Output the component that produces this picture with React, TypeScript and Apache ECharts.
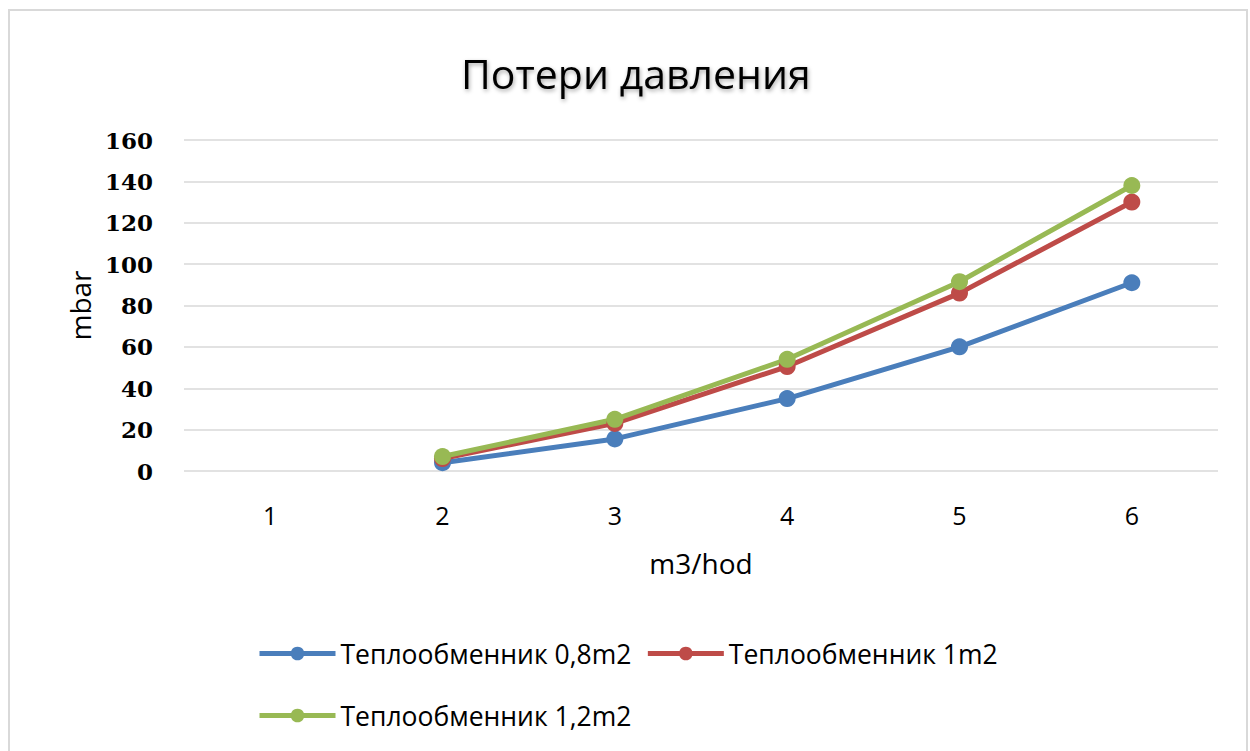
import React, { useEffect, useRef } from "react";
import * as echarts from "echarts";

const categories = ["1", "2", "3", "4", "5", "6"];
const series08 = [null, 4, 15.5, 35, 60, 91];
const series1 = [null, 6, 23, 50.5, 86, 130];
const series12 = [null, 7, 25, 54, 91.5, 138];
const seriesNames = ["Теплообменник 0,8m2", "Теплообменник 1m2", "Теплообменник 1,2m2"];
const colors = ["#4A7EBB", "#BE4B48", "#98B954"];

export default function App() {
  const ref = useRef<HTMLDivElement>(null);
  useEffect(() => {
    document.body.style.margin = "0";
    const chart = echarts.init(ref.current!, null, { renderer: "svg" });
    const mk = (name: string, data: any[], color: string) => ({
      name,
      type: "line",
      data,
      connectNulls: false,
      symbol: "circle",
      symbolSize: 17,
      lineStyle: { width: 5, color },
      itemStyle: { color },
      z: 3,
    });
    const legendText = { fontFamily: "Open Sans", fontSize: 26.5, color: "#000" };
    const legendCommon = {
      left: 252,
      itemWidth: 76,
      itemHeight: 17,
      itemGap: 14,
      textStyle: legendText,
      lineStyle: { width: 5 },
    };
    chart.setOption({
      animation: false,
      backgroundColor: "#ffffff",
      title: {
        text: "Потери давления",
        left: 456,
        top: 47,
        textStyle: {
          fontFamily: "Open Sans",
          fontSize: 41,
          fontWeight: "normal",
          color: "#000",
          textShadowColor: "rgba(0,0,0,0.35)",
          textShadowBlur: 4,
          textShadowOffsetX: 1,
          textShadowOffsetY: 2,
        },
      },
      graphic: [
        {
          type: "rect",
          shape: { x: 9, y: 10, width: 1238, height: 780 },
          style: { fill: "none", stroke: "#d9d9d9", lineWidth: 2 },
          silent: true,
        },
      ],
      legend: [
        { ...legendCommon, data: [seriesNames[0], seriesNames[1]], top: 635 },
        { ...legendCommon, data: [seriesNames[2]], top: 697 },
      ],
      grid: { left: 184, right: 32, top: 140, bottom: 280 },
      xAxis: {
        type: "category",
        data: categories,
        boundaryGap: true,
        axisLine: { show: false },
        axisTick: { show: false },
        axisLabel: { fontFamily: "Open Sans", fontSize: 25, color: "#000", margin: 31 },
        name: "m3/hod",
        nameLocation: "middle",
        nameGap: 78,
        nameTextStyle: { fontFamily: "Open Sans", fontSize: 28, color: "#000" },
      },
      yAxis: {
        type: "value",
        min: 0,
        max: 160,
        interval: 20,
        axisLine: { show: false },
        axisTick: { show: false },
        splitLine: { lineStyle: { color: "#d9d9d9", width: 1.5 } },
        axisLabel: {
          fontFamily: "DejaVu Serif",
          fontWeight: "bold",
          fontSize: 23,
          color: "#000",
          margin: 31,
        },
        name: "mbar",
        nameLocation: "middle",
        nameGap: 90,
        nameTextStyle: { fontFamily: "Open Sans", fontSize: 28, color: "#000" },
      },
      series: [
        mk(seriesNames[0], series08, colors[0]),
        mk(seriesNames[1], series1, colors[1]),
        mk(seriesNames[2], series12, colors[2]),
      ],
    });
    return () => chart.dispose();
  }, []);
  return <div ref={ref} style={{ width: 1250, height: 751 }} />;
}
